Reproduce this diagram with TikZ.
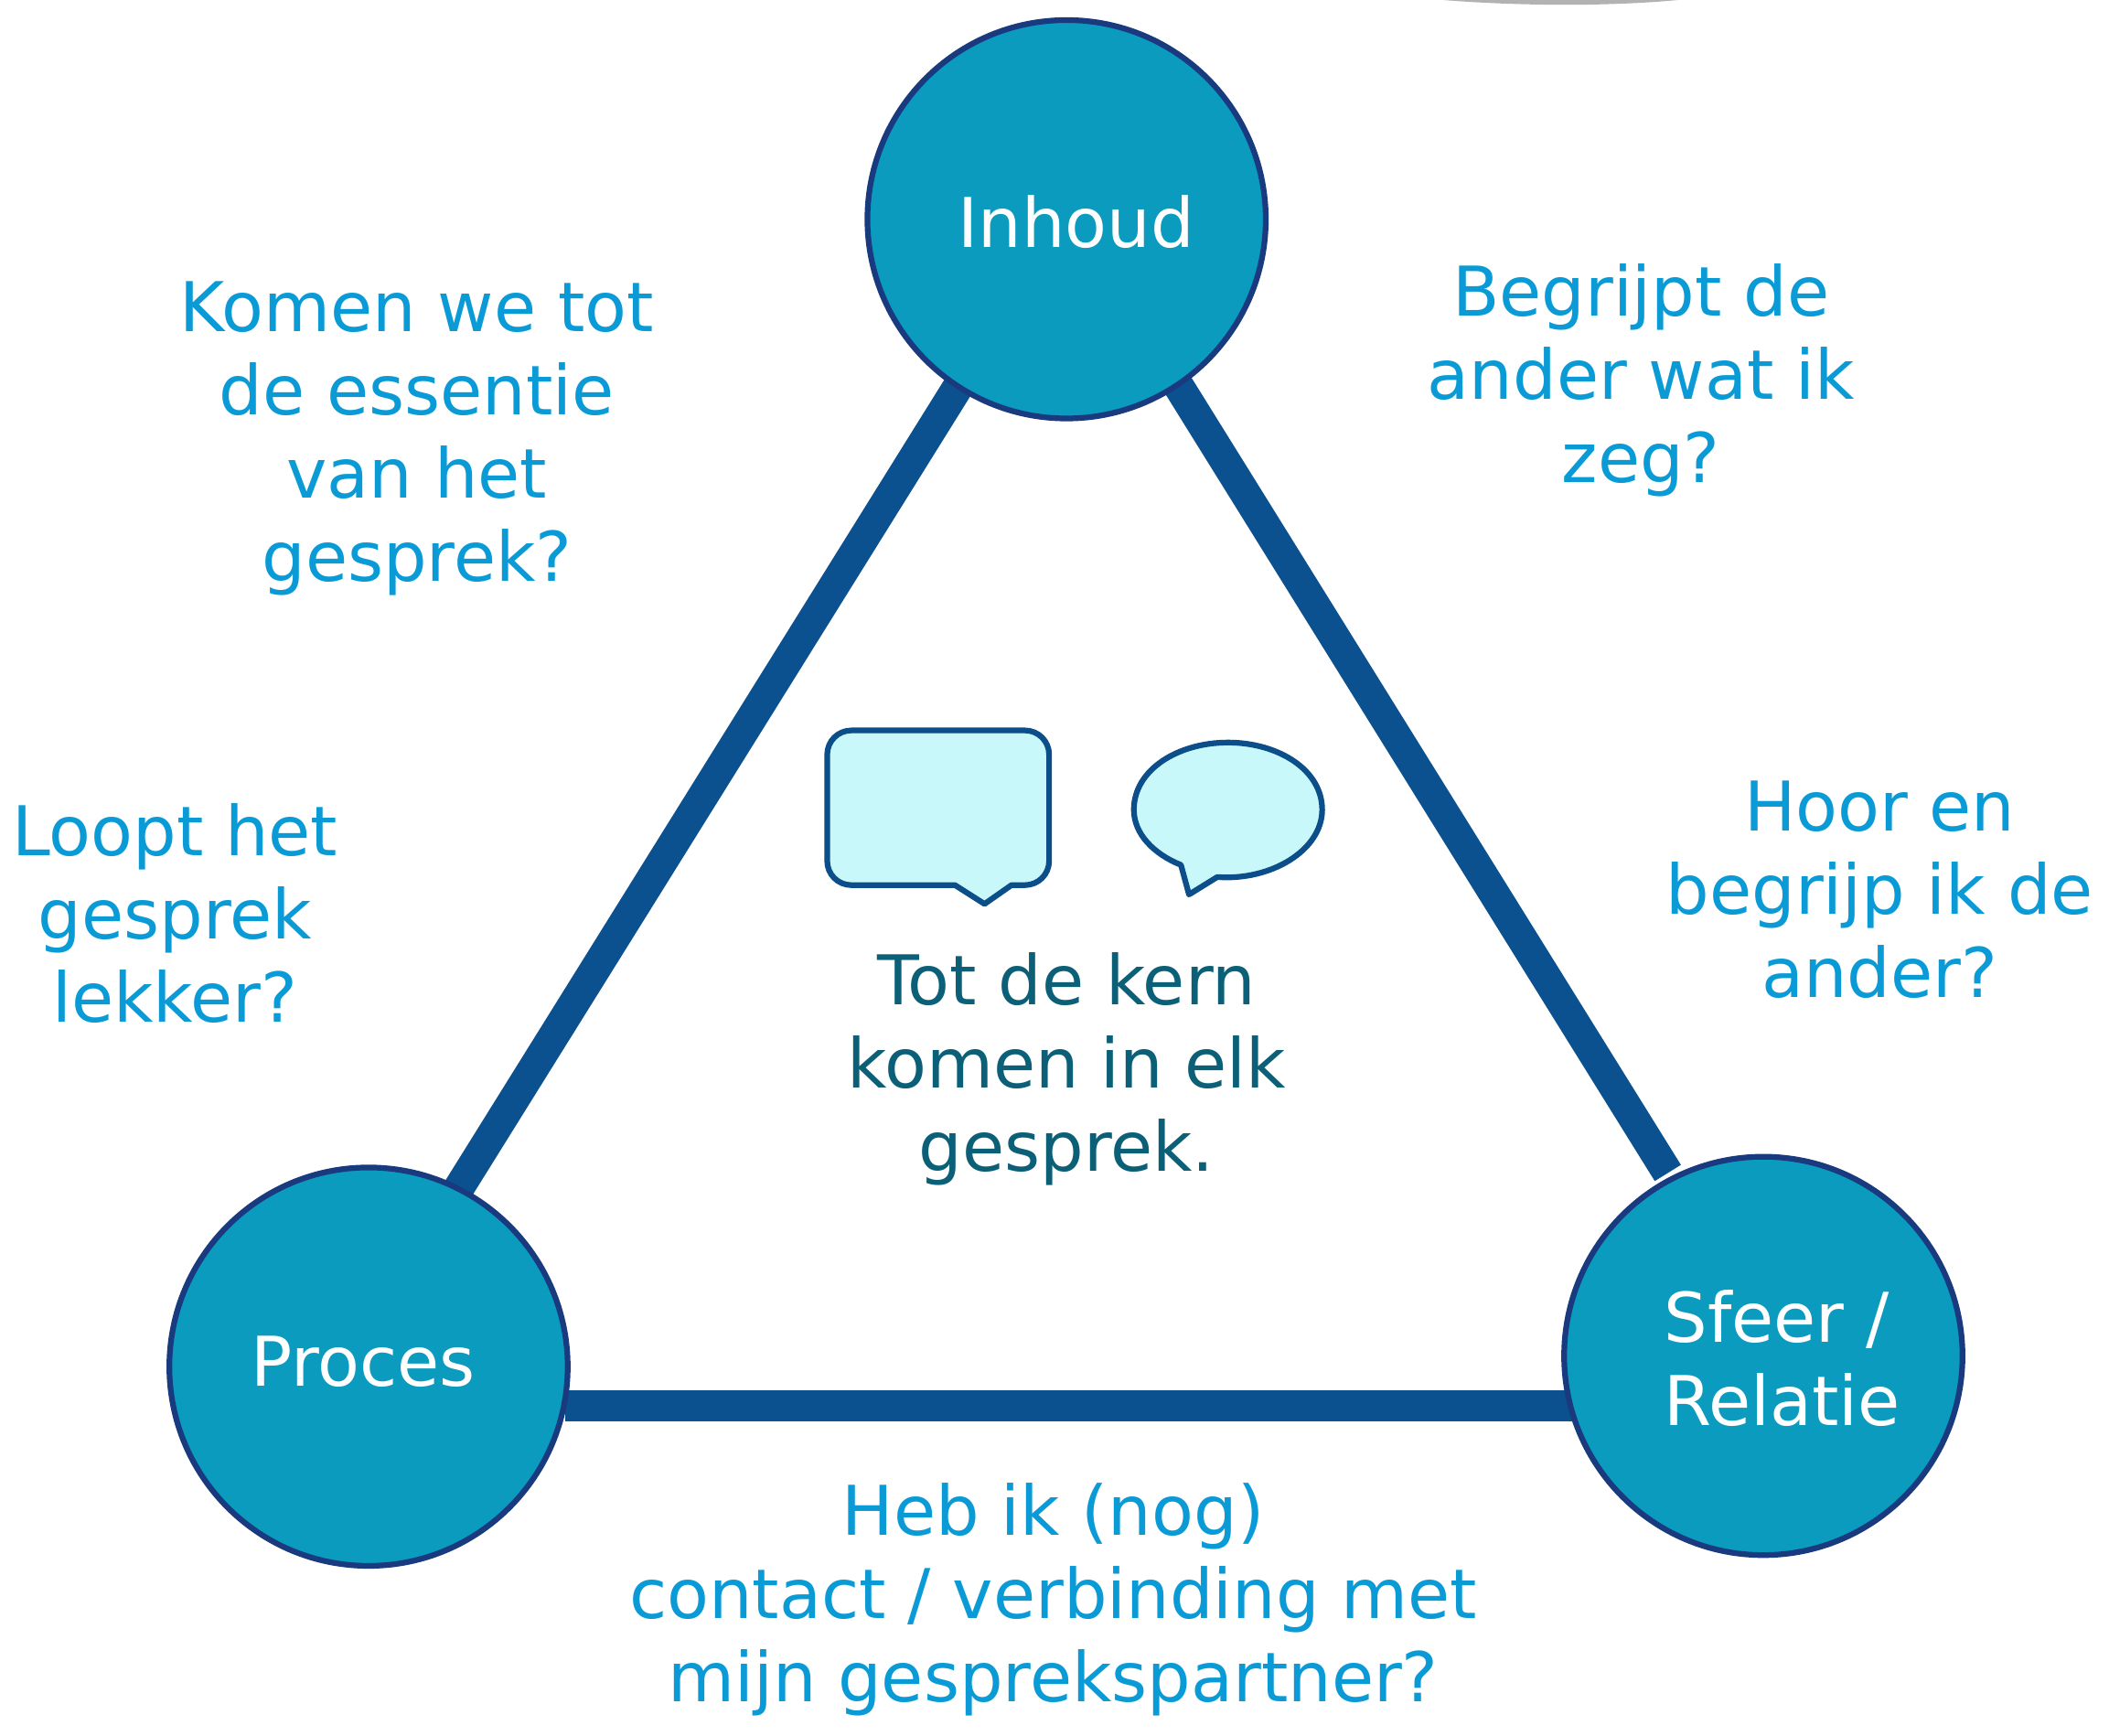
\documentclass[tikz,border=0pt]{standalone}
\usepackage{fontspec}
\setmainfont{DejaVu Sans}
\usetikzlibrary{shapes.geometric}
\definecolor{circ}{HTML}{0A9BBE}
\definecolor{circb}{HTML}{1A3A80}
\definecolor{edge}{HTML}{0B5190}
\definecolor{qtxt}{HTML}{0A9BD6}
\definecolor{ctxt}{HTML}{0B5F77}
\definecolor{bub}{HTML}{C8F8FA}
\definecolor{bubb}{HTML}{0B4E8A}
\tikzset{
  vert/.style={circle,minimum size=2.96cm,inner sep=0pt,fill=circ,draw=circb,line width=1.2pt},
  lab/.style={text=white,align=left,font=\fontsize{14.5}{17.6}\selectfont,inner sep=0pt},
  q/.style={align=center,text=qtxt,font=\fontsize{14.5}{17.6}\selectfont,inner sep=0pt},
  bar/.style={edge,line width=6.5pt},
  bubble/.style={fill=bub,draw=bubb,line width=1.2pt,line join=round}
}
\begin{document}
\begin{tikzpicture}[x=0.01cm,y=-0.01cm]
\useasboundingbox (0,0) rectangle (1568,1290);
\draw[gray!60,line width=1pt] (1070,-2) .. controls (1130,3) and (1200,3) .. (1250,-2);
% bars
\coordinate (l1) at (712,288); \coordinate (l2) at (340,885);
\coordinate (r1) at (875,285); \coordinate (r2) at (1240,872);
\coordinate (b1) at (420,1045); \coordinate (b2) at (1170,1045);
\draw[bar] (l1) -- (l2);
\draw[bar] (r1) -- (r2);
\draw[bar] (b1) -- (b2);
\node[vert] (inh) at (793,163) {};
\node[vert] (pro) at (274,1016) {};
\node[vert] (sfe) at (1311,1008) {};
\node[lab] at (800,165) {Inhoud};
\node[lab] at (270,1012) {Proces};
\node[lab] at (1325,1010) {Sfeer /\\Relatie};
% bubbles
\draw[bubble] (633,543) -- (762,543) .. controls (772,543) and (780,551) .. (780,561)
  -- (780,640) .. controls (780,650) and (772,658) .. (762,658)
  -- (752,658) -- (732,672) -- (710,658) -- (633,658)
  .. controls (623,658) and (615,650) .. (615,640) -- (615,561)
  .. controls (615,551) and (623,543) .. (633,543) -- cycle;
\draw[bubble] (905,652) .. controls (945,655) and (983,632) .. (983,602)
  .. controls (983,572) and (950,552) .. (913,552)
  .. controls (876,552) and (843,572) .. (843,602)
  .. controls (843,620) and (858,635) .. (878,643) -- (884,665) -- cycle;
% texts
\node[q] (t1) at (310,326) {Komen we tot\\de essentie\\van het\\gesprek?};
\node[q] (t2) at (1220,283) {Begrijpt de\\ander wat ik\\zeg?};
\node[q] (t3) at (130,679) {Loopt het\\gesprek\\lekker?};
\node[q,anchor=west] (t4) at (1238,667) {\begin{tabular}{@{}c@{}}Hoor en\\begrijp ik de\\ander?\end{tabular}};
\node[q,text=ctxt] (t5) at (793,795) {Tot de kern\\komen in elk\\gesprek.};
\node[q] (t6) at (783,1189) {Heb ik (nog)\\contact / verbinding met\\mijn gesprekspartner?};
\end{tikzpicture}
\end{document}
